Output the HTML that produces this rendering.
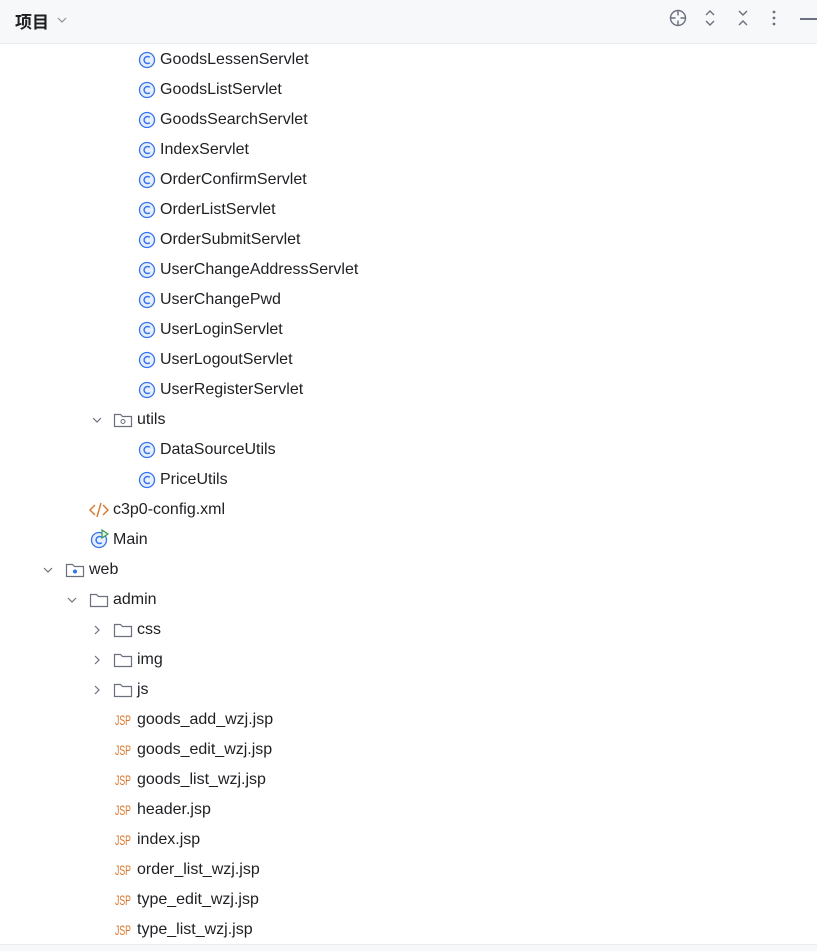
<!DOCTYPE html>
<html><head><meta charset="utf-8"><style>
body{margin:0;width:817px;height:950px;background:#fff;font-family:"Liberation Sans","Noto Sans CJK SC",sans-serif;overflow:hidden;position:relative;color:#1e1f22}
svg{display:block}
.hdr{position:absolute;left:0;top:0;width:817px;height:43px;background:#f7f8fa;border-bottom:1px solid #ebecf0}
.r{position:absolute;height:30px;line-height:30px;font-size:16px;white-space:nowrap}
.ic{position:absolute;line-height:0}
.t{position:absolute;top:0}
.jsp{position:absolute;top:0;font-size:14px;color:#d9752a;font-family:"Liberation Sans",sans-serif;transform:scaleX(.62);transform-origin:left}
</style></head><body>
<div class="hdr">
<div style="position:absolute;left:15px;top:8px;font-size:17px;font-weight:bold;font-family:'Noto Sans CJK SC',sans-serif">项目</div>
<svg style="position:absolute;left:56px;top:15px" width="12" height="10"><path d="M2 3l4 4 4-4" fill="none" stroke="#8c8f99" stroke-width="1.2"/></svg>
<svg style="position:absolute;left:668px;top:8px" width="20" height="20"><circle cx="10" cy="10" r="7.5" fill="none" stroke="#6c707e" stroke-width="1.4"/><path d="M10 2.5v5M10 12.5v5M2.5 10h5M12.5 10h5" stroke="#6c707e" stroke-width="1.4"/></svg>
<svg style="position:absolute;left:702px;top:8px" width="16" height="20"><path d="M4 7l4-4 4 4M4 13l4 4 4-4" fill="none" stroke="#6c707e" stroke-width="1.4"/></svg>
<svg style="position:absolute;left:735px;top:8px" width="16" height="20"><path d="M4 3l4 4 4-4M4 17l4-4 4 4" fill="none" stroke="#6c707e" stroke-width="1.4"/></svg>
<svg style="position:absolute;left:770px;top:8px" width="8" height="20"><circle cx="4" cy="4" r="1.4" fill="#6c707e"/><circle cx="4" cy="10" r="1.4" fill="#6c707e"/><circle cx="4" cy="16" r="1.4" fill="#6c707e"/></svg>
<div style="position:absolute;left:800px;top:18px;width:17px;height:1.5px;background:#6c707e"></div>
</div>
<div id="tree"></div>
<div style="position:absolute;left:0;top:944px;width:817px;height:6px;background:#f7f8fa;border-top:1px solid #ebecf0"></div>
<script>
var C='<svg width="18" height="18"><circle cx="9" cy="9" r="7.5" fill="#e7effd" stroke="#3574f0" stroke-width="1.3"/><path d="M11.8 6.3A3.5 3.5 0 1 0 11.8 11.7" fill="none" stroke="#3574f0" stroke-width="1.5"/></svg>';
var F='<svg width="20" height="18"><path d="M1.5 3.5h6l2 2h9v10h-17z" fill="none" stroke="#6c707e" stroke-width="1.2"/></svg>';
var FP='<svg width="20" height="18"><path d="M1.5 3.5h6l2 2h9v10h-17z" fill="none" stroke="#6c707e" stroke-width="1.2"/><circle cx="10" cy="10.5" r="2" fill="none" stroke="#6c707e" stroke-width="1"/></svg>';
var FW='<svg width="20" height="18"><path d="M1.5 3.5h6l2 2h9v10h-17z" fill="none" stroke="#6c707e" stroke-width="1.2"/><circle cx="10" cy="10.5" r="2" fill="#3574f0"/></svg>';
var X='<svg width="20" height="18"><path d="M6 4l-5 5 5 5M14 4l5 5-5 5" fill="none" stroke="#d9752a" stroke-width="1.4"/><path d="M12 2l-4 14" stroke="#d9752a" stroke-width="1.4"/></svg>';
var M='<svg width="22" height="20"><circle cx="10" cy="11" r="7.5" fill="#e7effd" stroke="#3574f0" stroke-width="1.3"/><path d="M12.8 8.3A3.5 3.5 0 1 0 12.8 13.7" fill="none" stroke="#3574f0" stroke-width="1.5"/><path d="M13 1v8l6-4z" fill="#e6f4ea" stroke="#3a9b4e" stroke-width="1.2"/></svg>';
var DN='<svg width="12" height="10"><path d="M2 3l4 4 4-4" fill="none" stroke="#6c707e" stroke-width="1.2"/></svg>';
var RT='<svg width="10" height="12"><path d="M3 2l4 4-4 4" fill="none" stroke="#6c707e" stroke-width="1.2"/></svg>';
var rows=[];
['GoodsLessenServlet','GoodsListServlet','GoodsSearchServlet','IndexServlet','OrderConfirmServlet','OrderListServlet','OrderSubmitServlet','UserChangeAddressServlet','UserChangePwd','UserLoginServlet','UserLogoutServlet','UserRegisterServlet'].forEach(function(n){rows.push([C,138,160,n])});
rows.push([FP,113,137,'utils',DN,91]);
rows.push([C,138,160,'DataSourceUtils']);rows.push([C,138,160,'PriceUtils']);
rows.push([X,89,113,'c3p0-config.xml']);
rows.push([M,89,113,'Main']);
rows.push([FW,65,89,'web',DN,42]);
rows.push([F,89,113,'admin',DN,66]);
['css','img','js'].forEach(function(n){rows.push([F,113,137,n,RT,92])});
['goods_add_wzj.jsp','goods_edit_wzj.jsp','goods_list_wzj.jsp','header.jsp','index.jsp','order_list_wzj.jsp','type_edit_wzj.jsp','type_list_wzj.jsp'].forEach(function(n){rows.push(['JSP',115,137,n])});
var h='';
rows.forEach(function(r,i){var top=45+i*30;
h+='<div class="r" style="left:0;top:'+top+'px;width:817px">';
if(r[4])h+='<span class="ic" style="left:'+r[5]+'px;top:'+(r[4]==DN?10:9)+'px">'+r[4]+'</span>';
if(r[0]=='JSP')h+='<span class="jsp" style="left:'+r[1]+'px">JSP</span>';
else h+='<span class="ic" style="left:'+r[1]+'px;top:'+(r[0]==M?4:6)+'px">'+r[0]+'</span>';
h+='<span class="t" style="left:'+r[2]+'px">'+r[3]+'</span></div>';});
document.getElementById('tree').innerHTML=h;
</script>
</body></html>
